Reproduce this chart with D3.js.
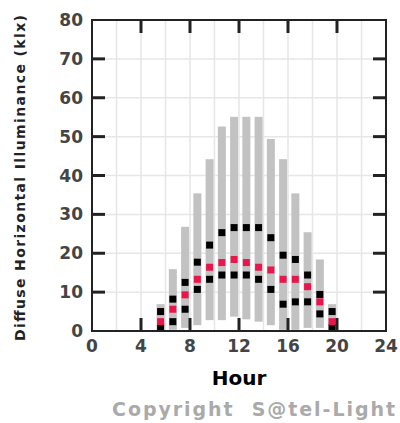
<!DOCTYPE html>
<html><head><meta charset="utf-8">
<script src="https://cdn.jsdelivr.net/npm/d3@7"></script>
<style>body{margin:0;background:#fff}svg{display:block}</style>
</head><body>
<script>
const hours   = [6,7,8,9,10,11,12,13,14,15,16,17,18,19,20];
const maxVal  = [6.9,15.9,26.8,35.4,44.2,52.6,55.1,55.1,55.1,49.4,44.2,35.4,25.4,18.4,6.9];
const minVal  = [0,0.3,0.8,1.5,2.8,2.8,3.7,3.0,2.4,1.5,0.3,0.3,0.8,0.8,0];
const upperQ  = [5.0,8.2,12.5,17.7,22.1,25.3,26.6,26.6,26.6,24.0,19.5,18.4,14.4,9.4,5.0];
const median  = [2.4,5.6,9.3,13.3,16.4,17.6,18.4,17.6,16.4,15.7,13.3,13.3,11.4,7.5,2.4];
const lowerQ  = [0.7,2.4,5.6,10.7,13.3,14.4,14.4,14.4,13.3,10.7,6.9,7.5,7.5,4.4,0.7];
const xTicks  = [0,4,8,12,16,20,24];
const yTicks  = [0,10,20,30,40,50,60,70,80];
const xGrid   = [2,4,6,8,10,12,14,16,18,20,22];
const yLabel  = "Diffuse Horizontal Illuminance (klx)";
const xLabel  = "Hour";
const copyright = "Copyright  S@tel-Light";

const W = 400, H = 423;
const L = 92, R = 386, T = 20, B = 331;
const x = d3.scaleLinear().domain([0,24]).range([L,R]);
const y = d3.scaleLinear().domain([0,80]).range([B,T]);
const off = -0.4;

const svg = d3.select("body").append("svg").attr("width",W).attr("height",H);

// grid
const g = svg.append("g");
g.selectAll(".vg").data(xGrid).join("line")
  .attr("x1",d=>x(d)).attr("x2",d=>x(d)).attr("y1",T).attr("y2",B)
  .attr("stroke","#e6e6e6").attr("stroke-width",1.5);
g.selectAll(".hg").data(yTicks.slice(1,-1)).join("line")
  .attr("x1",L).attr("x2",R).attr("y1",d=>y(d)).attr("y2",d=>y(d))
  .attr("stroke","#e6e6e6").attr("stroke-width",1.5);

// bars
const bw = 8, sq = 7;
svg.append("g").selectAll("rect").data(hours).join("rect")
  .attr("x",(d)=>x(d+off)-bw/2).attr("width",bw)
  .attr("y",(d,i)=>y(maxVal[i])).attr("height",(d,i)=>y(minVal[i])-y(maxVal[i]))
  .attr("fill","#c2c2c2");

function squares(vals, color){
  svg.append("g").selectAll("rect").data(hours).join("rect")
    .attr("x",d=>x(d+off)-sq/2).attr("width",sq)
    .attr("y",(d,i)=>Math.min(y(vals[i])-sq/2, B-sq)).attr("height",sq)
    .attr("fill",color);
}
squares(upperQ,"#000");
squares(lowerQ,"#000");
squares(median,"#e8164a");

// ticks inward
const tk = 13, tw = 3, tc = "#222";
const ax = svg.append("g");
xTicks.slice(1,-1).forEach(t=>{
  ax.append("line").attr("x1",x(t)).attr("x2",x(t)).attr("y1",B).attr("y2",B-tk).attr("stroke",tc).attr("stroke-width",tw);
  ax.append("line").attr("x1",x(t)).attr("x2",x(t)).attr("y1",T).attr("y2",T+tk).attr("stroke",tc).attr("stroke-width",tw);
});
yTicks.slice(1,-1).forEach(t=>{
  ax.append("line").attr("x1",L).attr("x2",L+tk).attr("y1",y(t)).attr("y2",y(t)).attr("stroke",tc).attr("stroke-width",tw);
  ax.append("line").attr("x1",R).attr("x2",R-tk).attr("y1",y(t)).attr("y2",y(t)).attr("stroke",tc).attr("stroke-width",tw);
});
// frame
svg.append("rect").attr("x",L).attr("y",T).attr("width",R-L).attr("height",B-T)
  .attr("fill","none").attr("stroke","#222").attr("stroke-width",2);

const font = "'DejaVu Sans', Verdana, sans-serif";
// tick labels
svg.append("g").selectAll("text").data(yTicks).join("text")
  .attr("x",L-9).attr("y",d=>y(d)).attr("dy","0.36em").attr("text-anchor","end")
  .attr("font-family",font).attr("font-weight","bold").attr("font-size",17)
  .attr("fill","#444").text(d=>d);
svg.append("g").selectAll("text").data(xTicks).join("text")
  .attr("x",d=>x(d)).attr("y",B+15).attr("dy","0.36em").attr("text-anchor","middle")
  .attr("font-family",font).attr("font-weight","bold").attr("font-size",17)
  .attr("fill","#444").text(d=>d);

// axis titles
svg.append("text").attr("transform",`translate(20,178) rotate(-90)`)
  .attr("text-anchor","middle").attr("dy","0.36em")
  .attr("textLength",326).attr("lengthAdjust","spacing")
  .attr("font-family",font).attr("font-weight","bold").attr("font-size",14)
  .attr("fill","#222").text(yLabel);
svg.append("text").attr("x",(L+R)/2).attr("y",378).attr("dy","0.36em").attr("text-anchor","middle")
  .attr("font-family",font).attr("font-weight","bold").attr("font-size",20)
  .attr("fill","#000").text(xLabel);
svg.append("text").attr("x",112).attr("y",409).attr("dy","0.36em")
  .attr("textLength",283).attr("lengthAdjust","spacing")
  .attr("font-family",font).attr("font-weight","bold").attr("font-size",19)
  .attr("fill","#aaa").attr("xml:space","preserve").text(copyright);
</script>
</body></html>
